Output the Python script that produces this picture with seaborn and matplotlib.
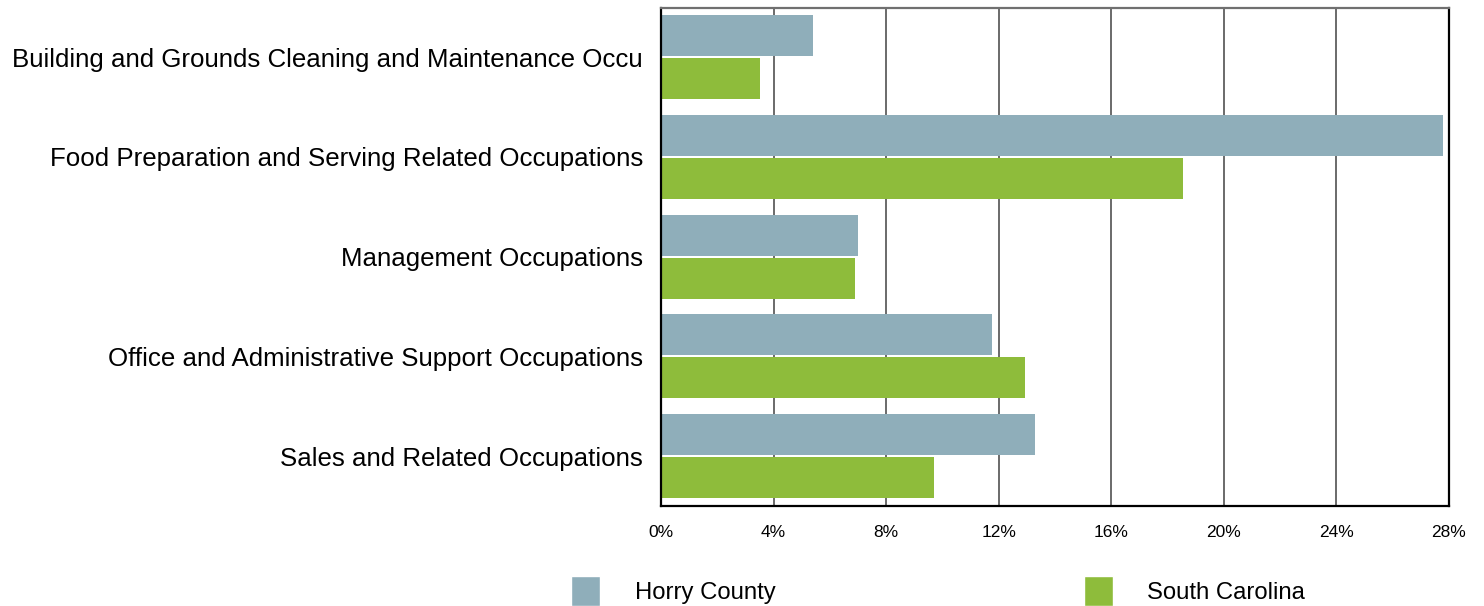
import matplotlib
matplotlib.use("Agg")
import matplotlib.pyplot as plt
from matplotlib.patches import Patch
from matplotlib.ticker import FuncFormatter
import seaborn as sns
import pandas as pd

categories = [
    "Building and Grounds Cleaning and Maintenance Occu",
    "Food Preparation and Serving Related Occupations",
    "Management Occupations",
    "Office and Administrative Support Occupations",
    "Sales and Related Occupations",
]
horry = [5.4, 27.8, 7.0, 11.75, 13.3]
south_carolina = [3.5, 18.55, 6.9, 12.95, 9.7]
series = ["Horry County", "South Carolina"]
colores = {"Horry County": "#8FAEBA", "South Carolina": "#8EBC3B"}

df = pd.DataFrame({
    "occupation": categories * 2,
    "area": [series[0]] * len(categories) + [series[1]] * len(categories),
    "pct": horry + south_carolina,
})

sns.set_style("white")
plt.rcParams["font.family"] = ["Liberation Sans", "DejaVu Sans"]
plt.rcParams["text.color"] = "black"
plt.rcParams["xtick.color"] = "black"
plt.rcParams["ytick.color"] = "black"

fig = plt.figure(figsize=(14.84, 6.06), dpi=100)
ax = fig.add_axes([661 / 1484, 1 - 506 / 606, 788 / 1484, 498 / 606])

sns.barplot(data=df, x="pct", y="occupation", hue="area", order=categories,
            hue_order=series, palette=colores, orient="h", width=0.862, gap=0.046,
            saturation=1, linewidth=0, legend=False, ax=ax)

ax.set_xlim(0, 28)
ax.set_ylim(4.5, -0.494)
ax.set_xticks(range(0, 29, 4))
ax.xaxis.set_major_formatter(FuncFormatter(lambda v, p: f"{v:.0f}%"))
ax.grid(axis="x", color="#6a6a6a", linewidth=1.4)
ax.set_axisbelow(True)
ax.set(xlabel="", ylabel="")
ax.tick_params(axis="x", length=0, pad=14, labelsize=12.5)
ax.tick_params(axis="y", length=0, pad=13, labelsize=18.6)

for side in ["left", "bottom", "right"]:
    ax.spines[side].set_color("black")
    ax.spines[side].set_linewidth(1.6)
ax.spines["top"].set_color("#707070")
ax.spines["top"].set_linewidth(1.6)

handles = [Patch(facecolor=colores[s], label=s) for s in series]
fig.legend(handles=handles, loc="center left", bbox_to_anchor=(571 / 1484, 1 - 591 / 606),
           ncol=2, frameon=False, fontsize=17.2, handlelength=1.21, handleheight=1.5,
           handletextpad=1.46, columnspacing=12.9, borderpad=0, borderaxespad=0)

fig.savefig("out.png", dpi=100)
